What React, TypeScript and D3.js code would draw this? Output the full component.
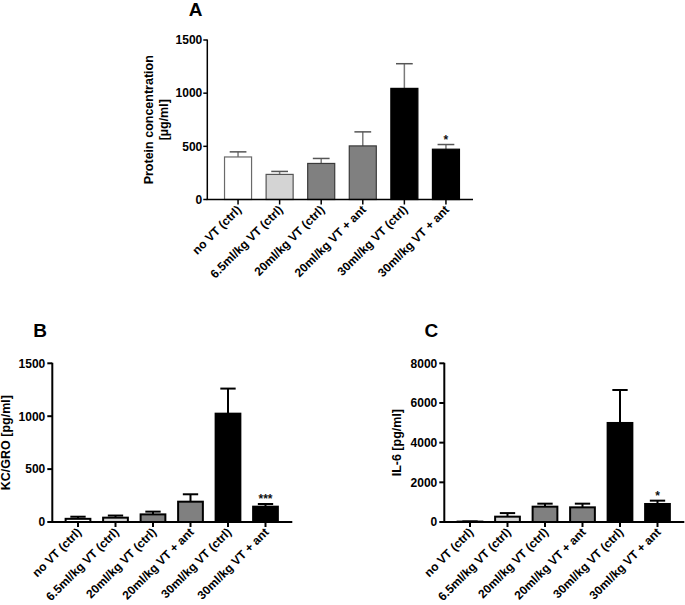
import React from "react";
import * as d3 from "d3";

const categories = [
  "no VT (ctrl)",
  "6.5ml/kg VT (ctrl)",
  "20ml/kg VT (ctrl)",
  "20ml/kg VT + ant",
  "30ml/kg VT (ctrl)",
  "30ml/kg VT + ant",
];

const proteinMean = [400, 236, 339, 504, 1045, 473];
const proteinSem = [48, 28, 47, 132, 232, 44];
const proteinStars = ["", "", "", "", "", "*"];
const proteinTicks = [0, 500, 1000, 1500];

const kcMean = [30, 41, 72, 192, 1024, 145];
const kcSem = [20, 20, 26, 70, 237, 25];
const kcStars = ["", "", "", "", "", "***"];
const kcTicks = [0, 500, 1000, 1500];

const il6Mean = [20, 269, 773, 739, 4992, 908];
const il6Sem = [10, 180, 151, 185, 1663, 168];
const il6Stars = ["", "", "", "", "", "*"];
const il6Ticks = [0, 2000, 4000, 6000, 8000];

const fills = ["#ffffff", "#d4d4d4", "#808080", "#808080", "#000000", "#000000"];
const FONT = "'Liberation Sans', Arial, sans-serif";

type PanelProps = {
  title: string;
  titleX: number;
  titleY: number;
  yLabel: string[];
  yLabelX: number;
  means: number[];
  sems: number[];
  stars: string[];
  ticks: number[];
  yMax: number;
  x0: number;
  x1: number;
  yTop: number;
  yBottom: number;
  thick: boolean;
  tickLen: number;
  tickPad: number;
  align: number;
  catFont: number;
};

function Panel(p: PanelProps) {
  const y = d3.scaleLinear().domain([0, p.yMax]).range([p.yBottom, p.yTop]);
  const x = d3
    .scaleBand<string>()
    .domain(categories)
    .range([p.x0, p.x1])
    .paddingInner(p.thick ? 0.34 : 0.35)
    .paddingOuter(0.37)
    .align(p.align);
  const bw = x.bandwidth();
  const axisW = p.thick ? 2 : 1.5;
  const barStroke = p.thick ? 2 : 1.2;
  const borderCols = p.thick
    ? ["#000", "#000", "#000", "#000", "#000", "#000"]
    : ["#6a6a6a", "#555", "#3a3a3a", "#3a3a3a", "#000", "#000"];
  const whiskerCol = p.thick ? "#000" : "#7a7a7a";
  const whiskerW = p.thick ? 2 : 1.5;
  const capW = bw * 0.62;
  const labelMid = (p.yTop + p.yBottom) / 2;
  return (
    <g>
      <text
        x={p.titleX}
        y={p.titleY}
        textAnchor="middle"
        fontFamily={FONT}
        fontWeight="bold"
        fontSize={19}
      >
        {p.title}
      </text>
      {p.yLabel.map((l, i) => (
        <text
          key={i}
          transform={`translate(${p.yLabelX + i * 14.5},${labelMid}) rotate(-90)`}
          textAnchor="middle"
          fontFamily={FONT}
          fontWeight="bold"
          fontSize={12.5}
        >
          {l}
        </text>
      ))}
      {categories.map((c, i) => {
        const top = y(p.means[i]);
        const errTop = y(p.means[i] + p.sems[i]);
        const cx = (x(c) as number) + bw / 2;
        return (
          <g key={c}>
            <line
              x1={cx}
              x2={cx}
              y1={top}
              y2={errTop}
              stroke={whiskerCol}
              strokeWidth={whiskerW}
            />
            <line
              x1={cx - capW / 2}
              x2={cx + capW / 2}
              y1={errTop}
              y2={errTop}
              stroke={p.thick ? "#000" : "#555"}
              strokeWidth={whiskerW}
            />
            <rect
              x={x(c)}
              y={top}
              width={bw}
              height={Math.max(0, p.yBottom - top)}
              fill={fills[i]}
              stroke={borderCols[i]}
              strokeWidth={barStroke}
            />
            {p.stars[i] && (
              <text
                x={cx}
                y={errTop - 1}
                textAnchor="middle"
                fontFamily={FONT}
                fontWeight="bold"
                fontSize={12}
                fill="#111"
              >
                {p.stars[i]}
              </text>
            )}
          </g>
        );
      })}
      <line x1={p.x0} x2={p.x0} y1={p.yTop - 0.5} y2={p.yBottom} stroke="#000" strokeWidth={axisW} />
      {p.ticks.map((t) => (
        <g key={t}>
          <line
            x1={p.x0 - p.tickLen}
            x2={p.x0}
            y1={y(t)}
            y2={y(t)}
            stroke="#000"
            strokeWidth={axisW}
          />
          <text
            x={p.x0 - p.tickLen - p.tickPad}
            y={y(t)}
            dy="0.36em"
            textAnchor="end"
            fontFamily={FONT}
            fontWeight="bold"
            fontSize={12}
          >
            {t}
          </text>
        </g>
      ))}
      <line x1={p.x0 - axisW / 2} x2={p.x1} y1={p.yBottom} y2={p.yBottom} stroke="#000" strokeWidth={axisW} />
      {categories.map((c) => {
        const cx = (x(c) as number) + bw / 2;
        return (
          <g key={c}>
            <line x1={cx} x2={cx} y1={p.yBottom} y2={p.yBottom + 5} stroke="#000" strokeWidth={axisW} />
            <text
              transform={`translate(${cx + 4},${p.yBottom + 11}) rotate(-45)`}
              textAnchor="end"
              fontFamily={FONT}
              fontWeight="bold"
              fontSize={p.catFont}
            >
              {c}
            </text>
          </g>
        );
      })}
    </g>
  );
}

export default function App() {
  return (
    <svg
      width={685}
      height={605}
      style={{ position: "absolute", left: 0, top: 0, background: "#fff" }}
    >
      <rect width={685} height={605} fill="#fff" />
      <Panel
        title="A"
        titleX={195.5}
        titleY={15.7}
        yLabel={["Protein concentration", "[µg/ml]"]}
        yLabelX={153}
        means={proteinMean}
        sems={proteinSem}
        stars={proteinStars}
        ticks={proteinTicks}
        yMax={1500}
        x0={207.3}
        x1={473}
        yTop={40}
        yBottom={199.5}
        thick={false}
        tickLen={4}
        tickPad={1}
        align={0.56}
        catFont={12}
      />
      <Panel
        title="B"
        titleX={40}
        titleY={336.7}
        yLabel={["KC/GRO [pg/ml]"]}
        yLabelX={9.5}
        means={kcMean}
        sems={kcSem}
        stars={kcStars}
        ticks={kcTicks}
        yMax={1500}
        x0={52.3}
        x1={292.3}
        yTop={363.3}
        yBottom={522}
        thick={true}
        tickLen={5}
        tickPad={2}
        align={0.48}
        catFont={12}
      />
      <Panel
        title="C"
        titleX={431.3}
        titleY={337}
        yLabel={["IL-6 [pg/ml]"]}
        yLabelX={401}
        means={il6Mean}
        sems={il6Sem}
        stars={il6Stars}
        ticks={il6Ticks}
        yMax={8000}
        x0={444.3}
        x1={684.3}
        yTop={363.3}
        yBottom={522}
        thick={true}
        tickLen={5}
        tickPad={2}
        align={0.48}
        catFont={12}
      />
    </svg>
  );
}
